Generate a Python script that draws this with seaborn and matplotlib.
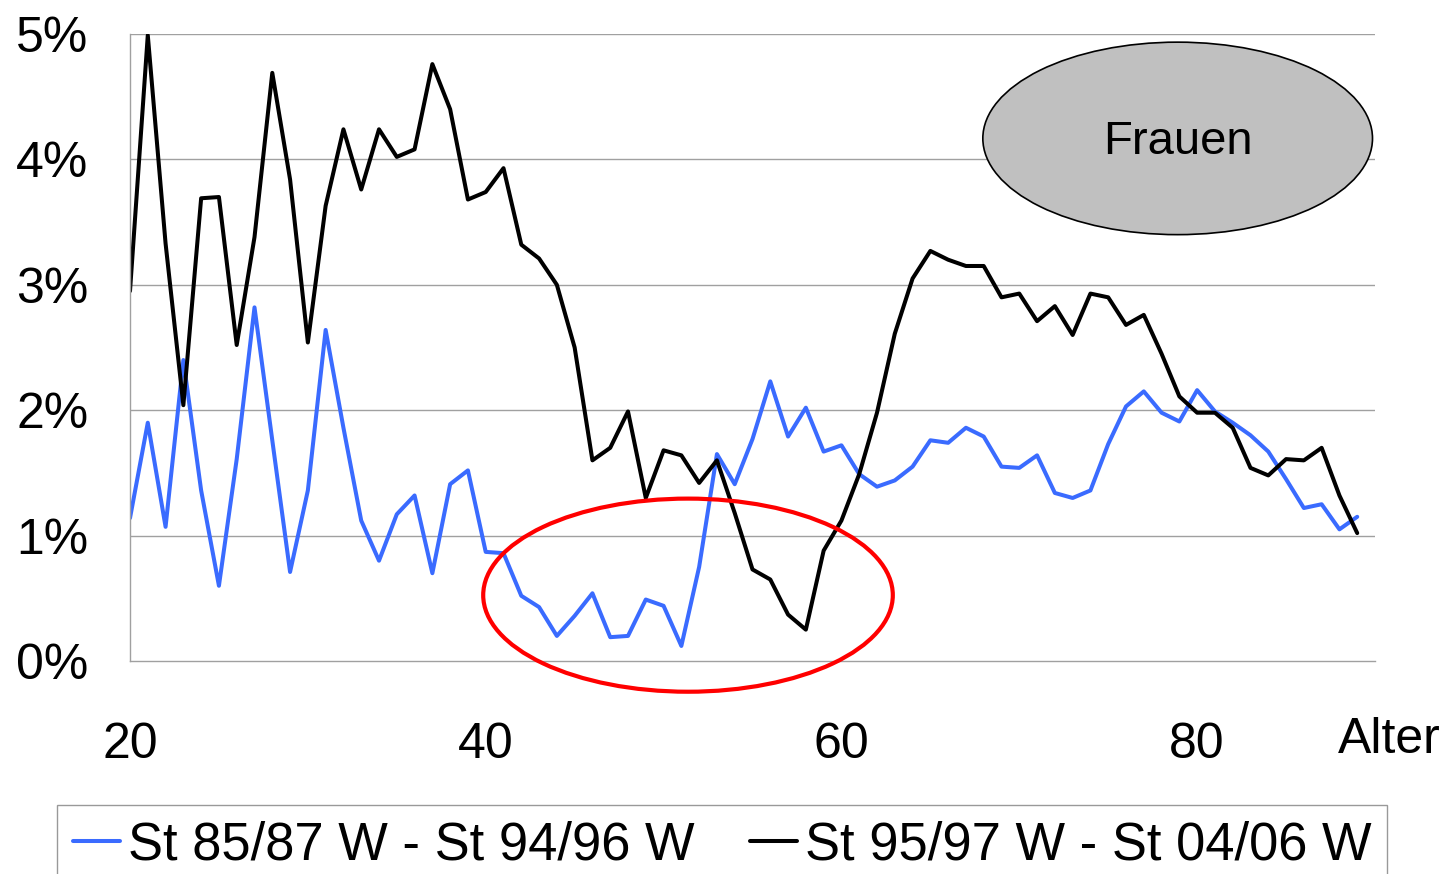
import numpy as np
import pandas as pd
import matplotlib
matplotlib.use("Agg")
import matplotlib.pyplot as plt
import seaborn as sns
from matplotlib.patches import Ellipse

ages = list(range(20, 90))

blue_vals = [1.14, 1.90, 1.07, 2.40, 1.36, 0.60, 1.61, 2.82, 1.76, 0.71,
             1.36, 2.64, 1.86, 1.12, 0.80, 1.17, 1.32, 0.70, 1.41, 1.52,
             0.87, 0.86, 0.52, 0.43, 0.20, 0.36, 0.54, 0.19, 0.20, 0.49,
             0.44, 0.12, 0.75, 1.65, 1.41, 1.77, 2.23, 1.79, 2.02, 1.67,
             1.72, 1.49, 1.39, 1.44, 1.55, 1.76, 1.74, 1.86, 1.79, 1.55,
             1.54, 1.64, 1.34, 1.30, 1.36, 1.73, 2.03, 2.15, 1.98, 1.91,
             2.16, 1.99, 1.90, 1.80, 1.67, 1.45, 1.22, 1.25, 1.05, 1.15]

black_vals = [2.95, 4.99, 3.33, 2.04, 3.69, 3.70, 2.52, 3.38, 4.69, 3.84,
              2.54, 3.63, 4.24, 3.76, 4.24, 4.02, 4.08, 4.76, 4.40, 3.68,
              3.74, 3.93, 3.32, 3.21, 3.00, 2.50, 1.60, 1.70, 1.99, 1.30,
              1.68, 1.64, 1.42, 1.60, 1.18, 0.73, 0.65, 0.37, 0.25, 0.88,
              1.12, 1.49, 1.98, 2.61, 3.05, 3.27, 3.20, 3.15, 3.15, 2.90,
              2.93, 2.71, 2.83, 2.60, 2.93, 2.90, 2.68, 2.76, 2.45, 2.11,
              1.98, 1.98, 1.86, 1.54, 1.48, 1.61, 1.60, 1.70, 1.32, 1.02]

series_names = ["St 85/87 W - St 94/96 W", "St 95/97 W - St 04/06 W"]
series_colors = ["#3A6BFF", "#000000"]
y_ticks = [0, 1, 2, 3, 4, 5]
y_labels = ["0%", "1%", "2%", "3%", "4%", "5%"]
x_ticks = [20, 40, 60, 80]
x_labels = ["20", "40", "60", "80"]

df = pd.DataFrame({
    "Alter": ages * 2,
    "Wert": blue_vals + black_vals,
    "Serie": [series_names[0]] * len(ages) + [series_names[1]] * len(ages),
})

sns.set_theme(style="white")
plt.rcParams["font.family"] = ["Liberation Sans", "DejaVu Sans"]
plt.rcParams["text.color"] = "black"
plt.rcParams["xtick.color"] = "black"
plt.rcParams["ytick.color"] = "black"

fig = plt.figure(figsize=(14.47, 8.74), dpi=100)
ax = fig.add_axes([130 / 1447, 1 - 661 / 874, (1375 - 130) / 1447, (661 - 34) / 874])

sns.lineplot(data=df, x="Alter", y="Wert", hue="Serie", palette=series_colors,
             hue_order=series_names, linewidth=2.9, ax=ax, legend=False)

ax.set_xlim(20, 90)
ax.set_ylim(0, 5)
ax.set_yticks(y_ticks)
ax.set_yticklabels(y_labels, fontsize=36)
ax.set_xticks(x_ticks)
ax.set_xticklabels(x_labels, fontsize=36)
ax.tick_params(axis="x", length=0, pad=44, labelcolor="black")
ax.tick_params(axis="y", length=0, pad=30, labelcolor="black")
ax.set_xlabel("")
ax.set_ylabel("")
for y in y_ticks[1:]:
    ax.axhline(y, color="#a0a0a0", linewidth=1.0, zorder=0)
for s in ["top", "right"]:
    ax.spines[s].set_visible(False)
for s in ["left", "bottom"]:
    ax.spines[s].set_color("#a0a0a0")
    ax.spines[s].set_linewidth(1.0)

# annotations
frauen = Ellipse((0.8415, 0.8335), 0.313, 0.307, transform=ax.transAxes,
                 facecolor="#c0c0c0", edgecolor="black", linewidth=1.2, zorder=3)
ax.add_patch(frauen)
ax.text(0.8415, 0.827, "Frauen", transform=ax.transAxes, fontsize=34,
        ha="center", va="center", zorder=4, color="black")

red = Ellipse((0.4482, 0.105), 0.329, 0.308, transform=ax.transAxes,
              facecolor="none", edgecolor="#ff0000", linewidth=3.0,
              zorder=5, clip_on=False)
ax.add_patch(red)

fig.text(1338 / 1447, 1 - 740 / 874, "Alter", fontsize=36, ha="left",
         va="center", color="black")

handles = [plt.Line2D([], [], color=c, linewidth=2.9) for c in series_colors]
leg = fig.legend(handles, series_names, loc="upper left",
                 bbox_to_anchor=(57 / 1447, 1 - 805 / 874), ncol=2,
                 fontsize=37.8, frameon=True, fancybox=False, handlelength=0.9,
                 handletextpad=0.15, columnspacing=1.05, borderpad=0.3,
                 borderaxespad=0)
leg.get_frame().set_edgecolor("#808080")
leg.get_frame().set_linewidth(1.0)
for t in leg.get_texts():
    t.set_color("black")

fig.savefig("out.png", dpi=100)
